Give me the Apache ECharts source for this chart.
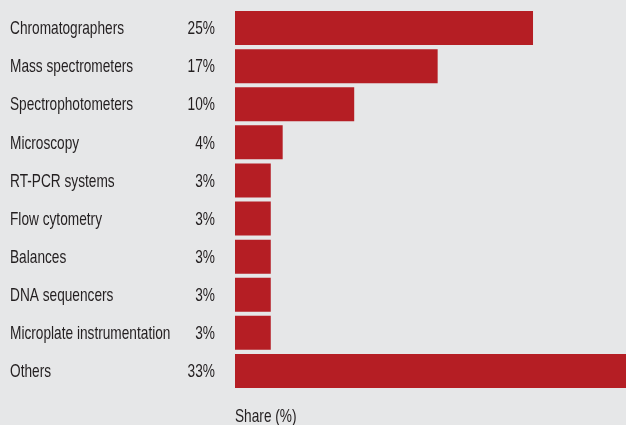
<!DOCTYPE html>
<html>
<head>
<meta charset="utf-8">
<script src="https://cdn.jsdelivr.net/npm/echarts@6/dist/echarts.min.js"></script>
<style>
  html, body { margin: 0; padding: 0; background: #e6e7e8; }
  #chart { width: 626px; height: 425px; }
</style>
</head>
<body>
<div id="chart"></div>
<script>
// Instrument categories, top to bottom
const categories = [
  'Chromatographers',
  'Mass spectrometers',
  'Spectrophotometers',
  'Microscopy',
  'RT-PCR systems',
  'Flow cytometry',
  'Balances',
  'DNA sequencers',
  'Microplate instrumentation',
  'Others'
];
// Share of each category, in percent
const shares = [25, 17, 10, 4, 3, 3, 3, 3, 3, 33];
const axisTitle = 'Share (%)';

// Arial-metric face, squeezed horizontally for a condensed look
const FONT_FAMILY = '"Liberation Sans", Arial, sans-serif';
const FONT_SIZE = 19;
const SQUEEZE = 0.72;
const TEXT = '#231f20';
const BAR = '#b51e24';

// category axis runs bottom-up in ECharts, so reverse the lists
const cats = categories.slice().reverse();
const vals = shares.slice().reverse();

// Row labels drawn through the category scale (name left, share right)
function labelRenderer(params, api) {
  const i = params.dataIndex;
  const p = api.coord([0, i]);
  const font = FONT_SIZE + 'px ' + FONT_FAMILY;
  return {
    type: 'group',
    children: [
      {
        type: 'text',
        x: p[0] - 225,
        y: p[1] + 1,
        scaleX: SQUEEZE,
        style: { text: cats[i], font: font, fill: TEXT, align: 'left', verticalAlign: 'middle' }
      },
      {
        type: 'text',
        x: p[0] - 20,
        y: p[1] + 1,
        scaleX: SQUEEZE,
        style: { text: vals[i] + '%', font: font, fill: TEXT, align: 'right', verticalAlign: 'middle' }
      }
    ]
  };
}

const chart = echarts.init(document.getElementById('chart'), null, { renderer: 'canvas' });
chart.setOption({
  backgroundColor: '#e6e7e8',
  animation: false,
  grid: { left: 235, right: 0, top: 9, bottom: 35, containLabel: false },
  xAxis: { type: 'value', min: 0, max: 32.8, show: false },
  yAxis: {
    type: 'category',
    data: cats,
    axisLine: { show: false },
    axisTick: { show: false },
    splitLine: { show: false },
    axisLabel: { show: false }
  },
  graphic: [{
    type: 'text',
    left: 235,
    top: 407,
    scaleX: SQUEEZE,
    style: { text: axisTitle, font: FONT_SIZE + 'px ' + FONT_FAMILY, fill: TEXT }
  }],
  series: [
    {
      type: 'bar',
      data: vals,
      barWidth: 34,
      clip: true,
      itemStyle: { color: BAR }
    },
    {
      type: 'custom',
      data: vals.map((v, i) => [0, i]),
      encode: { x: 0, y: 1 },
      clip: false,
      silent: true,
      renderItem: labelRenderer
    }
  ]
});
</script>
</body>
</html>
